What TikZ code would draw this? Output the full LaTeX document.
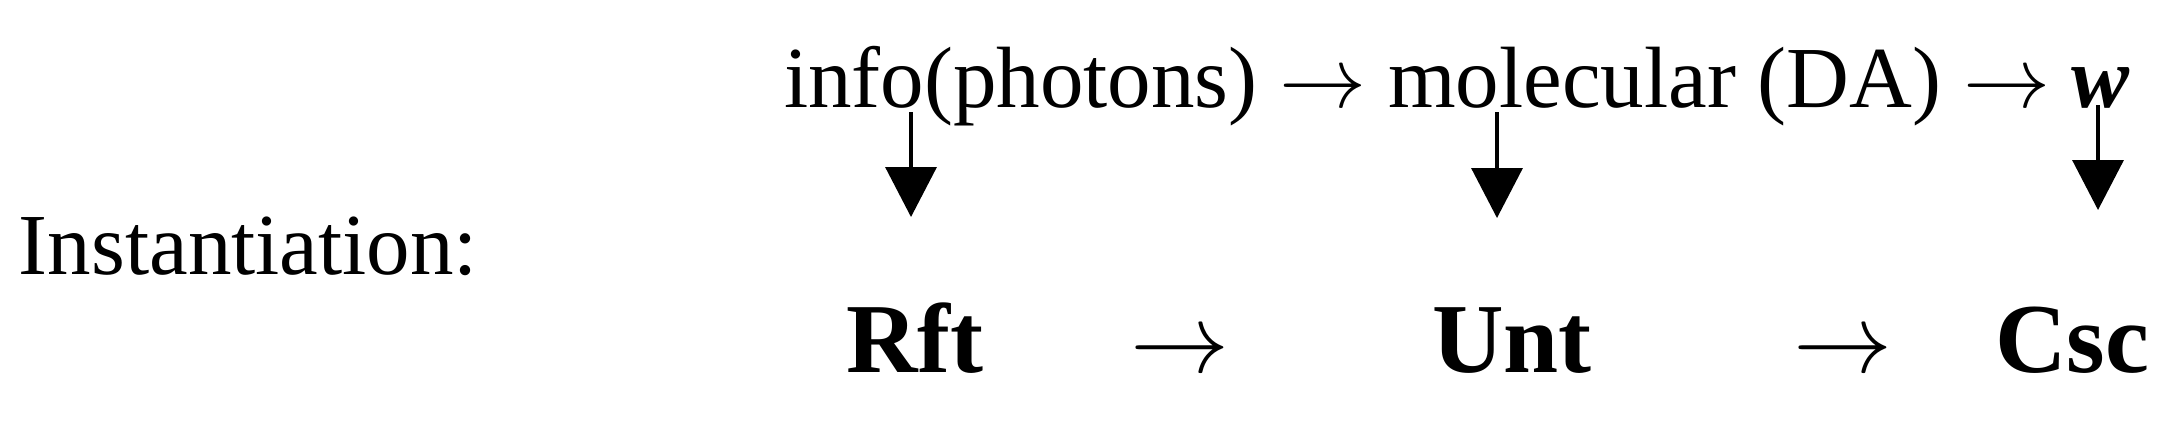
\documentclass[tikz,border=0pt]{standalone}
\usepackage{fontspec}
\setmainfont{Liberation Serif}
\usetikzlibrary{arrows.meta}
\newcommand{\rarr}[1]{{\fontsize{10}{12}\selectfont\scalebox{#1}{$\rightarrow$}}}
\tikzset{
  toptext/.style={inner sep=0pt, outer sep=0pt, font=\fontsize{87}{87}\selectfont, anchor=base west},
  bottext/.style={inner sep=0pt, outer sep=0pt, font=\fontsize{99}{99}\selectfont\bfseries, anchor=base},
  botarrow/.style={inner sep=0pt, outer sep=0pt, anchor=base},
  downarrow/.style={line width=3.5pt, -{Triangle[width=51pt,length=50pt]}}
}
\begin{document}
\begin{tikzpicture}[x=1pt,y=-1pt]
\useasboundingbox[fill=white] (0,0) rectangle (2161,421);
% label
\node[toptext] (inst) at (19,274) {Instantiation:};
% top line
\node[toptext] (t1) at (784,107) {info(photons)};
\node[toptext] (a1) at ([xshift=21.75pt]t1.base east) {\rarr{8.7}};
\node[toptext] (t2) at ([xshift=21.75pt]a1.base east) {molecular (DA)};
\node[toptext] (a2) at ([xshift=21.75pt]t2.base east) {\rarr{8.7}};
\node[toptext] (t3) at ([xshift=21.75pt]a2.base east) {\textbf{\textit{w}}};
% bottom line
\node[bottext] (rft) at (915,372) {Rft};
\node[botarrow] (b1) at (1180,372) {\rarr{9.9}};
\node[bottext] (unt) at (1512,372) {Unt};
\node[botarrow] (b2) at (1843,372) {\rarr{9.9}};
\node[bottext] (csc) at (2072,372) {Csc};
% vertical arrows
\coordinate (v1s) at (911,112);
\coordinate (v1e) at (911,217);
\coordinate (v2s) at (1497,112);
\coordinate (v2e) at (1497,218);
\coordinate (v3s) at (2098,105);
\coordinate (v3e) at (2098,210);
\draw[downarrow] (v1s) -- (v1e);
\draw[downarrow] (v2s) -- (v2e);
\draw[downarrow] (v3s) -- (v3e);
\end{tikzpicture}
\end{document}
